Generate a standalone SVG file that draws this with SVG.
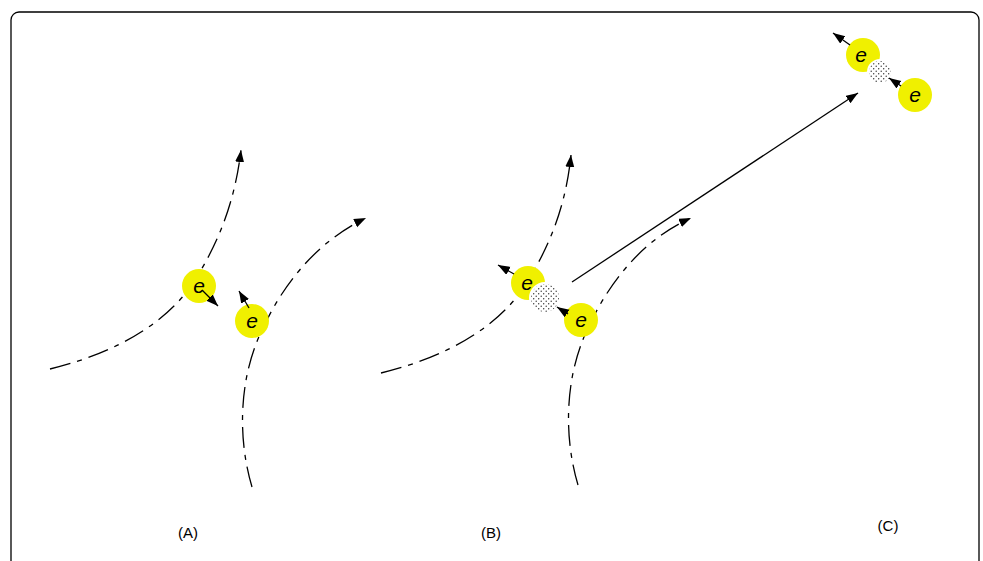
<svg xmlns="http://www.w3.org/2000/svg" width="983" height="561" viewBox="0 0 983 561">
<style>
.frame{fill:none;stroke:#000;stroke-width:1.3}
.traj{fill:none;stroke:#000;stroke-width:1.3;stroke-dasharray:21 7 5 7}
.arr{fill:none;stroke:#000;stroke-width:1.3}
.el{fill:#f0f000}
.dot{fill:url(#dots);stroke:#fff;stroke-width:2}
.et{font-family:"Liberation Sans",Arial,sans-serif;font-style:italic;font-size:21px;fill:#000;text-anchor:middle}
.lab{font-family:"Liberation Sans",Arial,sans-serif;font-size:15px;fill:#000;text-anchor:middle}
</style>
<defs>
<marker id="ah" markerUnits="userSpaceOnUse" markerWidth="13" markerHeight="10" refX="12" refY="4.5" orient="auto">
<path d="M0,0 L12,4.5 L0,9 Z" fill="#000"/>
</marker>
<pattern id="dots" patternUnits="userSpaceOnUse" width="5" height="5">
<rect width="5" height="5" fill="#fff"/>
<circle cx="1.2" cy="1.2" r="0.7" fill="#333"/>
<circle cx="3.7" cy="3.7" r="0.7" fill="#333"/>
</pattern>
</defs>
<rect class="frame" x="11" y="12" width="968" height="580" rx="8"/>
<g id="connectors">
<path class="traj" d="M50,369 C120,352 170,320 195,280 S235,200 241,150" marker-end="url(#ah)"/>
<path class="traj" d="M252,487 C238,440 238,380 262,330 C285,280 320,240 366,218" marker-end="url(#ah)"/>
<path class="traj" d="M381,373 C451,356 501,324 526,284 S566,204 571,155" marker-end="url(#ah)"/>
<path class="traj" d="M578,485 C564,438 564,378 588,328 C611,278 646,238 691,218" marker-end="url(#ah)"/>
<path class="arr" d="M572,282 L858,93" marker-end="url(#ah)"/>
</g>
<g id="nodeA1">
<circle class="el" cx="199" cy="286" r="17"/>
<text class="et" x="199" y="293">e</text>
<path class="arr" d="M202,290 L218,306" marker-end="url(#ah)"/>
</g>
<g id="nodeA2">
<circle class="el" cx="252" cy="321" r="17"/>
<text class="et" x="252" y="328">e</text>
<path class="arr" d="M249,308 L239,291" marker-end="url(#ah)"/>
</g>
<g id="nodeB1">
<circle class="el" cx="528" cy="283" r="17"/>
<text class="et" x="527" y="290">e</text>
<path class="arr" d="M514,274 L498,265" marker-end="url(#ah)"/>
</g>
<g id="nodeB3">
<circle class="dot" cx="545" cy="298" r="15"/>
</g>
<g id="nodeB2">
<circle class="el" cx="581" cy="320" r="17"/>
<text class="et" x="581" y="327">e</text>
<path class="arr" d="M568,314 L557,307" marker-end="url(#ah)"/>
</g>
<g id="nodeC1">
<circle class="el" cx="863" cy="55" r="17"/>
<text class="et" x="861" y="62">e</text>
<path class="arr" d="M850,45 L833,33" marker-end="url(#ah)"/>
</g>
<g id="nodeC3">
<circle class="dot" cx="880" cy="72" r="12"/>
</g>
<g id="nodeC2">
<circle class="el" cx="915" cy="95" r="17"/>
<text class="et" x="915" y="102">e</text>
<path class="arr" d="M901,86 L889,78" marker-end="url(#ah)"/>
</g>
<text class="lab" x="188" y="538">(A)</text>
<text class="lab" x="491" y="538">(B)</text>
<text class="lab" x="888" y="531">(C)</text>
</svg>
